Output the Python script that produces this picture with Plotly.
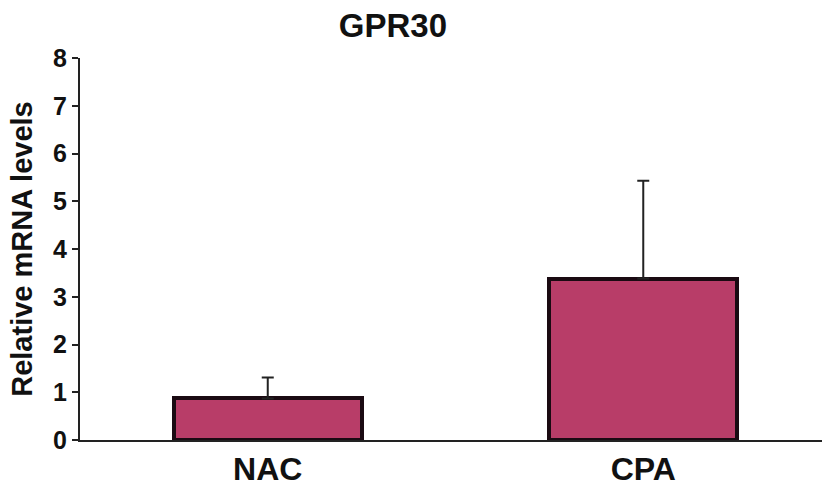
import plotly.graph_objects as go

categories = ["NAC", "CPA"]
values = [0.87, 3.38]
errors_plus = [0.44, 2.05]
y_ticks = [0, 1, 2, 3, 4, 5, 6, 7, 8]

fig = go.Figure()
fig.add_trace(go.Bar(
    x=[0, 1],
    y=values,
    width=0.5,
    marker=dict(color="#B83D68", line=dict(color="#1A0A12", width=4)),
    error_y=dict(type="data", array=errors_plus, arrayminus=[0, 0], symmetric=False,
                 color="#222222", thickness=2, width=6),
    showlegend=False,
))

fig.update_layout(
    width=822, height=487,
    margin=dict(l=80, r=0, t=58, b=47),
    paper_bgcolor="white", plot_bgcolor="white",
    font=dict(family="Liberation Sans, Arial, sans-serif", color="#111111"),
    title=dict(text="<b>GPR30</b>", x=0.478, xref="container", xanchor="center",
               y=0.947, yref="container", yanchor="middle",
               font=dict(size=33, color="#111111")),
    bargap=0,
)
fig.update_xaxes(
    range=[-0.5, 1.476], tickmode="array", tickvals=[0, 1],
    ticktext=["<b>%s</b>" % c for c in categories],
    tickfont=dict(size=32, color="#111111"),
    showline=True, linecolor="#222222", linewidth=2, ticks="",
    showgrid=False, zeroline=False,
)
fig.update_yaxes(
    range=[0, 8], tickmode="array", tickvals=y_ticks,
    ticktext=["<b>%d</b>" % t for t in y_ticks],
    tickfont=dict(size=25, color="#111111"),
    showline=True, linecolor="#222222", linewidth=2,
    ticks="outside", ticklen=6, tickwidth=1.5, tickcolor="#222222",
    showgrid=False, zeroline=False,
    title=dict(text="<b>Relative mRNA levels</b>", font=dict(size=29, color="#111111"), standoff=12),
)

fig.write_html("out.html")
